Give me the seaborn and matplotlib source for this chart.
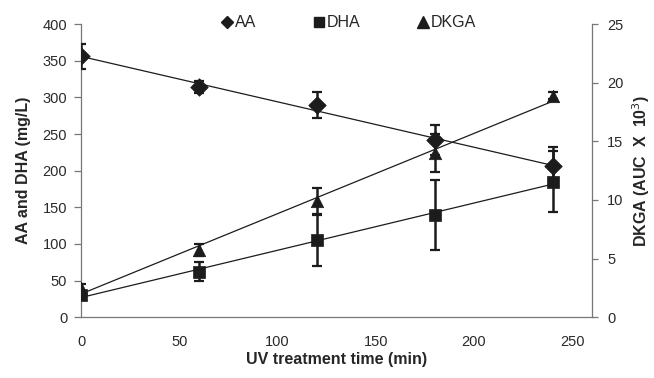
import numpy as np
import pandas as pd
import seaborn as sns
import matplotlib.pyplot as plt
from matplotlib.lines import Line2D

time = [0, 60, 120, 180, 240]
aa = [356, 314, 290, 242, 206]
aa_err = [17, 8, 18, 20, 26]
dha = [30, 62, 105, 139, 185]
dha_err = [5, 13, 35, 48, 42]
dkga = [2.5, 5.7, 9.9, 14.0, 18.9]
dkga_err = [0.3, 0.5, 1.1, 1.6, 0.3]

df = pd.DataFrame({"time": time, "AA": aa, "DHA": dha, "DKGA": dkga})

sns.set_theme(style="white")
plt.rcParams["font.family"] = ["Liberation Sans", "DejaVu Sans"]
ink = "#1c1c1c"
gray = "#777777"

fig, ax = plt.subplots(figsize=(6.54, 3.78), dpi=100)
fig.subplots_adjust(left=0.124, right=0.905, bottom=0.161, top=0.936)
ax2 = ax.twinx()

for col, err, mk, a in [("AA", aa_err, "D", ax), ("DHA", dha_err, "s", ax), ("DKGA", dkga_err, "^", ax2)]:
    sns.regplot(data=df, x="time", y=col, ax=a, scatter=False, ci=None,
                line_kws=dict(color=ink, lw=0.9))
    a.errorbar(df["time"], df[col], yerr=err, fmt="none", ecolor=ink,
               elinewidth=1.8, capsize=3.5, capthick=1.6, zorder=3)
    sns.scatterplot(data=df, x="time", y=col, ax=a, marker=mk, s=80,
                    color=ink, edgecolor=ink, linewidth=0.5, zorder=4)

ax.set_xlim(0, 260)
ax.set_ylim(0, 400)
ax2.set_ylim(0, 25)
ax.set_xticks([0, 50, 100, 150, 200, 250])
ax.set_yticks(range(0, 401, 50))
ax2.set_yticks(range(0, 26, 5))

for a in (ax, ax2):
    for s in a.spines.values():
        s.set_color(gray)
        s.set_linewidth(0.9)
    a.spines["top"].set_visible(False)
    a.tick_params(length=5, width=0.9, color=gray, labelsize=10.5,
                  labelcolor="#2a2a2a", direction="out")
ax.spines["right"].set_visible(False)
ax2.spines["left"].set_visible(False)
ax2.spines["bottom"].set_visible(False)
ax.tick_params(axis="x", pad=9, length=4)
ax.tick_params(axis="y", pad=5)
ax2.tick_params(axis="y", pad=7, length=4)

ax.set_xlabel("UV treatment time (min)", fontsize=11.5, fontweight="bold", labelpad=2)
ax.set_ylabel("AA and DHA (mg/L)", fontsize=11.5, fontweight="bold", labelpad=8)
ax2.set_ylabel("DKGA (AUC  X  10$^{3}$)", fontsize=11.5, fontweight="bold", labelpad=5)

handles = [Line2D([], [], ls="none", marker=m, color=ink, markersize=ms)
           for m, ms in [("D", 6.5), ("s", 7), ("^", 8)]]
fig.legend(handles, ["AA", "DHA", "DKGA"], ncol=3, loc="upper left",
           bbox_to_anchor=(0.338, 0.96), frameon=False, fontsize=11.5,
           borderpad=0, borderaxespad=0, handletextpad=0.1,
           columnspacing=3.5, handlelength=0.8)

fig.savefig("out.png", dpi=100)
